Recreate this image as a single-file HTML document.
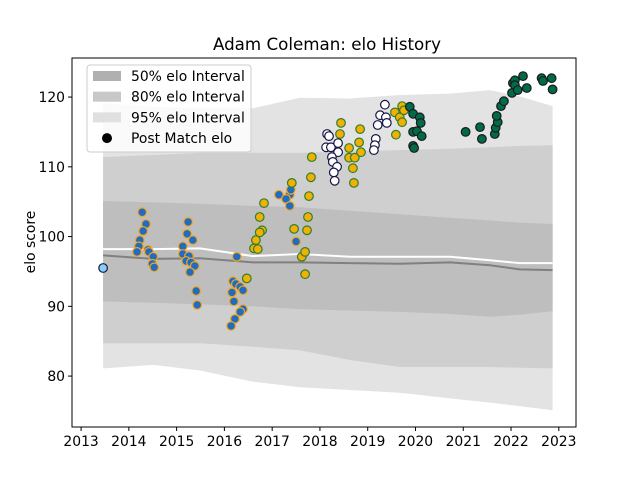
<!DOCTYPE html>
<html><head><meta charset="utf-8"><style>
body{margin:0;background:#fff}
svg{display:block;font-family:"DejaVu Sans","Liberation Sans",sans-serif}
</style></head><body>
<svg id="chart" width="640" height="480" viewBox="0 0 640 480">
<text x="327" y="50" text-anchor="middle" font-size="16.7">Adam Coleman: elo History</text>
<text transform="translate(35,242) rotate(-90)" text-anchor="middle" font-size="13.9">elo score</text>
<g id="bands"></g>
<g id="lines"></g>
<g id="points"></g>
<g id="axes"></g>
<g id="legend"></g>
</svg>
<script>
const gridYears=[2013.46,2014.51,2015.49,2016.60,2017.58,2018.63,2019.67,2020.72,2021.56,2022.18,2022.87];
const top95=[119.1,118.6,118.4,118.4,119.9,119.8,120.3,120.5,121.0,120.1,118.7];
const top80=[111.4,111.7,112.0,112.0,112.0,112.2,112.4,112.6,112.8,113.0,113.1];
const top50=[105.1,104.9,104.7,104.4,104.2,103.7,103.2,102.7,102.3,102.0,101.8];
const bot50=[90.7,90.5,90.3,90.0,89.6,89.4,89.2,88.9,88.5,88.8,89.3];
const bot80=[84.7,84.7,84.7,84.2,83.7,82.3,81.3,81.3,81.3,81.2,81.1];
const bot95=[81.1,81.6,80.8,79.2,78.4,78.0,77.6,76.8,76.2,75.7,75.1];
const medianLine=[97.3,96.8,96.9,96.3,96.3,96.2,96.1,96.3,95.9,95.3,95.2];
const whiteLine=[98.2,98.2,98.3,97.2,97.5,97.1,97.1,97.1,96.6,96.2,96.2];
const xTicks=[2013,2014,2015,2016,2017,2018,2019,2020,2021,2022,2023];
const yTicks=[80,90,100,110,120];

const firstYears=[2013.46];const firstElo=[95.5];
const blueYears=[2014.28,2014.36,2014.30,2014.23,2014.21,2014.17,2014.40,2014.42,2014.51,2014.49,2014.53,2015.24,2015.22,2015.34,2015.13,2015.13,2015.26,2015.20,2015.30,2015.38,2015.28,2015.41,2015.43,2016.26,2016.18,2016.24,2016.33,2016.39,2016.16,2016.20,2016.39,2016.33,2016.22,2016.14,2017.14,2017.37,2017.29,2017.37,2017.39,2017.50];
const blueElo=[103.5,101.8,100.8,99.5,98.6,97.8,98.1,97.8,97.1,96.1,95.6,102.1,100.4,99.5,98.6,97.5,97.2,96.5,96.3,95.8,94.9,92.2,90.2,97.1,93.6,93.2,92.8,92.3,92.0,90.7,89.6,89.2,88.2,87.2,106.0,106.0,105.4,104.4,106.7,99.3];
const yellowYears=[2016.47,2016.83,2016.74,2016.79,2016.74,2016.66,2016.62,2016.70,2017.69,2017.62,2017.69,2017.73,2017.46,2017.75,2017.77,2017.81,2017.83,2017.41,2018.44,2018.42,2018.84,2018.82,2018.61,2018.61,2018.73,2018.86,2018.69,2018.71,2019.57,2019.59,2019.72,2019.67,2019.72,2019.76];
const yellowElo=[94.0,104.8,102.8,100.9,100.6,99.5,98.3,98.2,94.6,97.1,97.8,100.9,101.1,102.8,105.8,108.5,111.4,107.7,116.3,114.7,115.4,113.5,112.7,111.3,111.3,112.1,109.8,107.7,117.8,114.6,118.7,117.1,116.4,118.1];
const whiteYears=[2018.15,2018.19,2018.13,2018.23,2018.38,2018.38,2018.25,2018.27,2018.36,2018.29,2018.31,2019.36,2019.26,2019.38,2019.40,2019.21,2019.17,2019.15,2019.13];
const whiteElo=[114.7,114.4,112.8,112.8,113.4,112.1,111.4,110.7,110.0,109.2,108.0,118.9,117.4,117.1,116.3,116.0,114.0,113.1,112.4];
const greenYears=[2019.88,2019.95,2020.09,2020.11,2019.95,2020.03,2020.13,2019.95,2019.97,2021.05,2021.35,2021.39,2021.66,2021.68,2021.72,2021.70,2021.79,2021.85,2022.02,2022.04,2022.08,2022.08,2022.14,2022.25,2022.33,2022.64,2022.67,2022.85,2022.87];
const greenElo=[118.6,117.6,117.1,116.3,115.0,115.1,114.4,113.0,112.7,115.0,115.7,114.0,114.7,115.6,116.4,117.3,118.7,119.4,120.6,122.0,122.4,121.7,121.0,123.0,121.3,122.7,122.3,122.7,121.1];

const X0=72,X1=576,Y0=58,Y1=427;
const xmin=2012.81,xmax=2023.36,ymin=72.7,ymax=125.6;
const sx=v=>X0+(v-xmin)/(xmax-xmin)*(X1-X0);
const sy=v=>Y1-(v-ymin)/(ymax-ymin)*(Y1-Y0);
const NS="http://www.w3.org/2000/svg";
function mk(tag,attrs,parent){const e=document.createElementNS(NS,tag);for(const k in attrs)e.setAttribute(k,attrs[k]);parent.appendChild(e);return e;}
function bandPath(up,lo){let d="";gridYears.forEach((y,i)=>{d+=(i?"L":"M")+sx(y).toFixed(1)+","+sy(up[i]).toFixed(1);});for(let i=gridYears.length-1;i>=0;i--)d+="L"+sx(gridYears[i]).toFixed(1)+","+sy(lo[i]).toFixed(1);return d+"Z";}
const bands=document.getElementById('bands');
let b=mk('path',{d:bandPath(top95,bot95),fill:'#e3e3e3'},bands);


b=mk('path',{d:bandPath(top80,bot80),fill:'#cfcfcf'},bands);


b=mk('path',{d:bandPath(top50,bot50),fill:'#bebebe'},bands);


const lines=document.getElementById('lines');
function linePath(vals){return gridYears.map((y,i)=>(i?"L":"M")+sx(y).toFixed(1)+","+sy(vals[i]).toFixed(1)).join("");}
let l=mk('path',{d:linePath(medianLine),fill:'none',stroke:'#808080','stroke-width':2},lines);


l=mk('path',{d:linePath(whiteLine),fill:'none',stroke:'#ffffff','stroke-width':2},lines);


const pts=document.getElementById('points');
function series(ys,es,fill,stroke,name){ys.forEach((y,i)=>{const c=mk('circle',{cx:sx(y).toFixed(1),cy:sy(es[i]).toFixed(1),r:4.3,fill:fill,stroke:stroke,'stroke-width':1.2},pts);

});}
series(firstYears,firstElo,'#87cefa','#1a1a3a','point-first');
series(blueYears,blueElo,'#1f6cc0','#f5a623','point-blue');
series(yellowYears,yellowElo,'#f2b100','#2e7d32','point-yellow');
series(whiteYears,whiteElo,'#ffffff','#141448','point-white');
series(greenYears,greenElo,'#006b4a','#1a1a1a','point-green');
const axes=document.getElementById('axes');
let f=mk('rect',{x:X0,y:Y0,width:X1-X0,height:Y1-Y0,fill:'none',stroke:'#000','stroke-width':1},axes);


xTicks.forEach(t=>{const x=sx(t);mk('line',{x1:x,x2:x,y1:Y1,y2:Y1+4,stroke:'#000'},axes);
const tx=mk('text',{x:x,y:Y1+19,'text-anchor':'middle','font-size':13.9},axes);tx.textContent=t;

});
yTicks.forEach(t=>{const y=sy(t);mk('line',{x1:X0-4,x2:X0,y1:y,y2:y,stroke:'#000'},axes);
const tx=mk('text',{x:X0-7,y:y+5,'text-anchor':'end','font-size':13.9},axes);tx.textContent=t;

});
const lg=document.getElementById('legend');
mk('rect',{x:87,y:65,width:164,height:87,rx:3,fill:'#fff','fill-opacity':0.8,stroke:'#ccc'},lg);
const items=[['50% elo Interval','#b0b0b0'],['80% elo Interval','#c8c8c8'],['95% elo Interval','#e0e0e0'],['Post Match elo',null]];
items.forEach((it,i)=>{const y=76+i*20.7;
if(it[1])mk('rect',{x:93,y:y-5,width:28,height:10,fill:it[1]},lg);else mk('circle',{cx:107,cy:y,r:5,fill:'#000'},lg);
const t=mk('text',{x:131,y:y+5,'font-size':13.9},lg);t.textContent=it[0];

});
</script>
</body></html>
